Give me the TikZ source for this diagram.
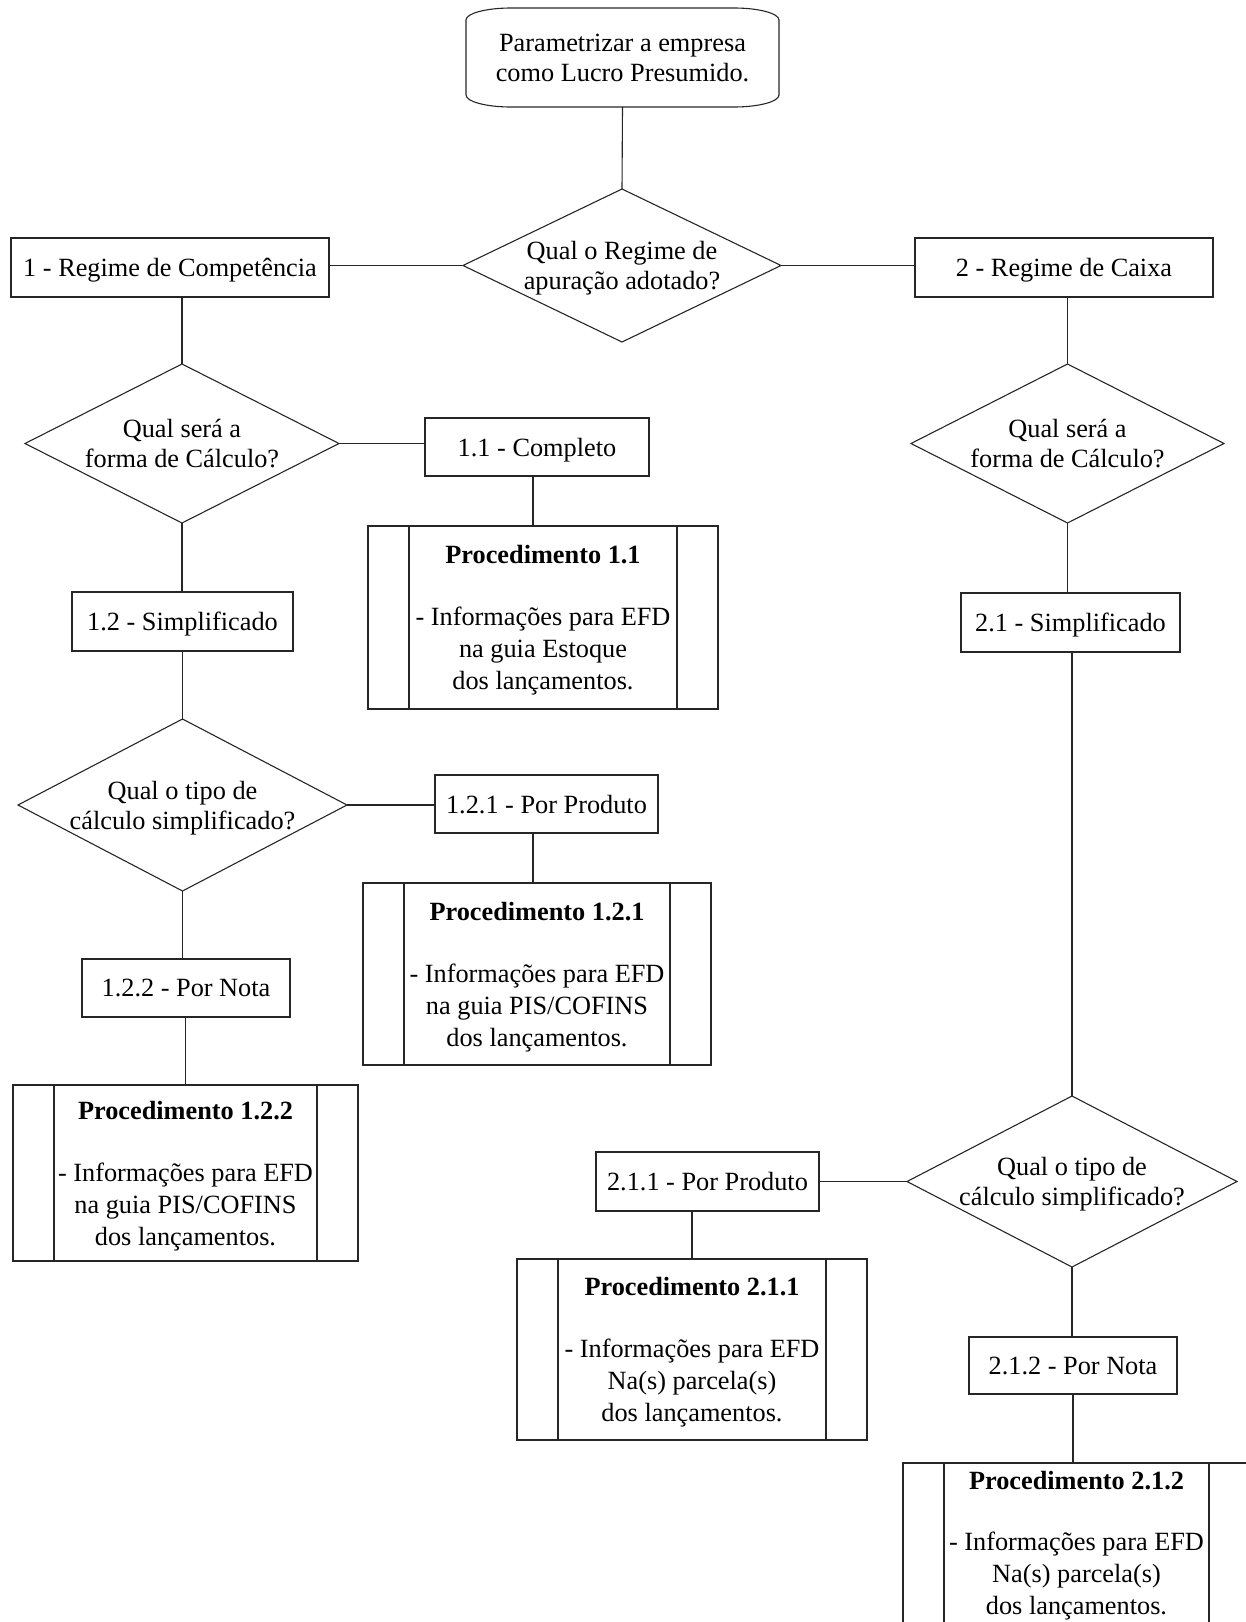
\documentclass[tikz,border=0pt]{standalone}
\usepackage{fontspec}
\setmainfont{Liberation Serif}
\usetikzlibrary{shapes.geometric}
\newcommand{\tfont}{\fontsize{26.3}{30}\selectfont}
\newcommand{\pfont}{\fontsize{26.3}{32}\selectfont}
\begin{document}
\begin{tikzpicture}[x=1pt,y=-1pt,
  every node/.style={outer sep=0pt, inner sep=0pt, text=black},
  conn/.style={line width=1.1pt, draw=black!85},
  term/.style={rectangle, align=center, font=\tfont, text depth=0pt},
  box/.style={rectangle, draw=black!85, line width=1.1pt, font=\tfont, text depth=0pt},
  dia/.style={diamond, draw=black!85, line width=1.1pt},
  dtext/.style={align=center, font=\tfont, text depth=0pt},
  proc/.style={rectangle, draw=black!85, line width=1.1pt, align=center, font=\pfont, text depth=0pt},
  inner/.style={line width=1.1pt, draw=black!85}
]
\useasboundingbox (0,0) rectangle (1246,1622);

% start terminal
\node[term, minimum width=313pt, minimum height=99pt] (start) at (622.5,57.5) {Parametrizar a empresa\\como Lucro Presumido.};
\draw[conn] ([yshift=-12pt]start.north west) arc[start angle=180,end angle=90,x radius=45pt,y radius=12pt]
  -- ([xshift=-45pt]start.north east) arc[start angle=90,end angle=0,x radius=45pt,y radius=12pt]
  -- ([yshift=12pt]start.south east) arc[start angle=0,end angle=-90,x radius=45pt,y radius=12pt]
  -- ([xshift=45pt]start.south west) arc[start angle=270,end angle=180,x radius=45pt,y radius=12pt]
  -- cycle;

% decisions
\node[dia, minimum width=318pt, minimum height=153pt,
  label={[dtext]center:{Qual o Regime de\\apuração adotado?}}] (d1) at (622,265.5) {};
\node[dia, minimum width=314pt, minimum height=159pt,
  label={[dtext]center:{Qual será a\\forma de Cálculo?}}] (d2) at (182,443.5) {};
\node[dia, minimum width=313pt, minimum height=159pt,
  label={[dtext]center:{Qual será a\\forma de Cálculo?}}] (d4) at (1067.5,443.5) {};
\node[dia, minimum width=329pt, minimum height=172pt,
  label={[dtext]center:{Qual o tipo de\\cálculo simplificado?}}] (d3) at (182.5,805) {};
\node[dia, minimum width=330pt, minimum height=171pt,
  label={[dtext]center:{Qual o tipo de\\cálculo simplificado?}}] (d5) at (1072,1181.5) {};

% boxes
\node[box, minimum width=318pt, minimum height=59pt] (b1) at (170,267.5) {1 - Regime de Competência};
\node[box, minimum width=298pt, minimum height=59pt] (b2) at (1064,267.5) {2 - Regime de Caixa};
\node[box, minimum width=224pt, minimum height=58pt] (b11) at (537,447) {1.1 - Completo};
\node[box, minimum width=221pt, minimum height=59pt] (b12) at (182.5,621.5) {1.2 - Simplificado};
\node[box, minimum width=223pt, minimum height=58pt] (b121) at (546.5,804) {1.2.1 - Por Produto};
\node[box, minimum width=208pt, minimum height=58pt] (b122) at (186,988) {1.2.2 - Por Nota};
\node[box, minimum width=219pt, minimum height=59pt] (b21) at (1070.5,622.5) {2.1 - Simplificado};
\node[box, minimum width=223pt, minimum height=59pt] (b211) at (707.5,1181.5) {2.1.1 - Por Produto};
\node[box, minimum width=208pt, minimum height=57pt] (b212) at (1073,1365.5) {2.1.2 - Por Nota};

% procedures
\node[proc, minimum width=350pt, minimum height=183pt] (p11) at (543,617.5)
  {\textbf{Procedimento 1.1}\\[30pt]- Informações para EFD\\na guia Estoque\\dos lançamentos.};
\node[proc, minimum width=348pt, minimum height=182pt] (p121) at (537,974)
  {\textbf{Procedimento 1.2.1}\\[30pt]- Informações para EFD\\na guia PIS/COFINS\\dos lançamentos.};
\node[proc, minimum width=345pt, minimum height=176pt] (p122) at (185.5,1173)
  {\textbf{Procedimento 1.2.2}\\[30pt]- Informações para EFD\\na guia PIS/COFINS\\dos lançamentos.};
\node[proc, minimum width=350pt, minimum height=181pt] (p211) at (692,1349.5)
  {\textbf{Procedimento 2.1.1}\\[30pt]- Informações para EFD\\Na(s) parcela(s)\\dos lançamentos.};
\node[proc, minimum width=347pt, minimum height=160pt] (p212) at (1076.5,1543)
  {\textbf{Procedimento 2.1.2}\\[29pt]- Informações para EFD\\Na(s) parcela(s)\\dos lançamentos.};
\foreach \p in {p11,p121,p122,p211,p212}{
  \draw[inner] ([xshift=41pt]\p.north west) -- ([xshift=41pt]\p.south west);
  \draw[inner] ([xshift=-41pt]\p.north east) -- ([xshift=-41pt]\p.south east);
}

% connectors
\draw[conn] (start.south) -- (d1.north);
\draw[conn] (d1.west) -- (d1.west -| b1.east);
\draw[conn] (d1.east) -- (d1.east -| b2.west);
\draw[conn] (d2.north |- b1.south) -- (d2.north);
\draw[conn] (d4.north |- b2.south) -- (d4.north);
\draw[conn] (d2.east) -- (d2.east -| b11.west);
\coordinate (c11) at ([xshift=-4pt]b11.south);
\draw[conn] (c11) -- (c11 |- p11.north);
\draw[conn] (d2.south) -- (d2.south |- b12.north);
\draw[conn] (d3.north |- b12.south) -- (d3.north);
\draw[conn] (d3.east) -- (d3.east -| b121.west);
\coordinate (c121) at ([xshift=-13.5pt]b121.south);
\draw[conn] (c121) -- (c121 |- p121.north);
\draw[conn] (d3.south) -- (d3.south |- b122.north);
\draw[conn] (p122.north |- b122.south) -- (p122.north);
\draw[conn] (d4.south) -- (d4.south |- b21.north);
\draw[conn] (d5.north |- b21.south) -- (d5.north);
\draw[conn] (d5.west) -- (d5.west -| b211.east);
\draw[conn] (p211.north |- b211.south) -- (p211.north);
\draw[conn] (d5.south) -- (d5.south |- b212.north);
\draw[conn] (b212.south) -- (b212.south |- p212.north);
\end{tikzpicture}
\end{document}
